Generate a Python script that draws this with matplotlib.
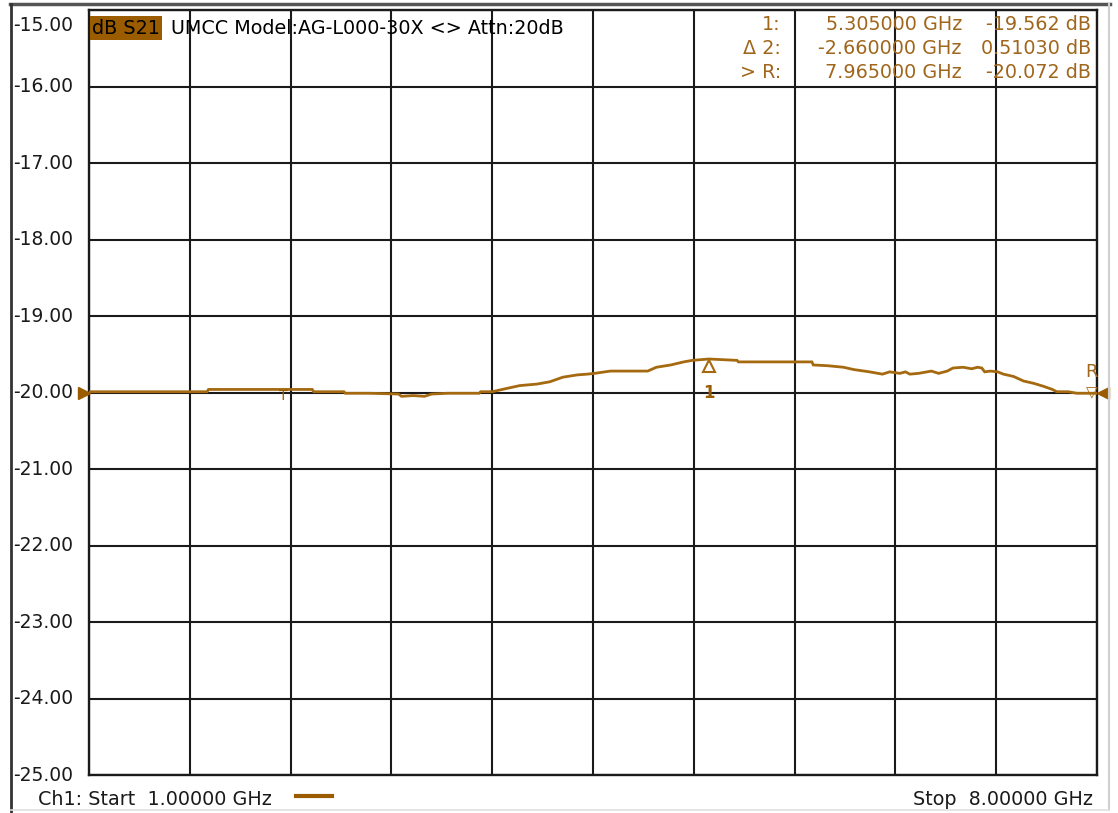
import matplotlib
matplotlib.use("Agg")
import matplotlib.pyplot as plt
from matplotlib.transforms import blended_transform_factory, offset_copy
from matplotlib.lines import Line2D

# ---- data ----
freq_ghz = [1.00, 1.82, 1.83, 2.55, 2.56, 2.77, 2.78, 2.95, 3.15, 3.17, 3.25, 3.33,
            3.38, 3.49, 3.71, 3.72, 3.80, 3.87, 3.99, 4.11, 4.20, 4.29, 4.39, 4.46,
            4.51, 4.62, 4.88, 4.94, 5.04, 5.13, 5.19, 5.305, 5.50, 5.51, 5.87, 6.02,
            6.03, 6.13, 6.24, 6.31, 6.42, 6.51, 6.56, 6.63, 6.67, 6.70, 6.76, 6.85,
            6.90, 6.96, 7.00, 7.07, 7.13, 7.17, 7.20, 7.22, 7.26, 7.31, 7.35, 7.42,
            7.49, 7.56, 7.63, 7.69, 7.72, 7.80, 7.86, 8.00]
s21_db = [-19.99, -19.99, -19.96, -19.96, -19.99, -19.99, -20.01, -20.01, -20.02, -20.05,
          -20.04, -20.05, -20.02, -20.01, -20.01, -19.99, -19.99, -19.96, -19.91, -19.89,
          -19.86, -19.80, -19.77, -19.76, -19.75, -19.72, -19.72, -19.67, -19.64, -19.60,
          -19.58, -19.562, -19.58, -19.60, -19.60, -19.60, -19.64, -19.65, -19.67, -19.70,
          -19.73, -19.76, -19.73, -19.75, -19.73, -19.76, -19.75, -19.72, -19.75, -19.72,
          -19.68, -19.67, -19.69, -19.67, -19.68, -19.73, -19.72, -19.73, -19.76, -19.79,
          -19.85, -19.88, -19.92, -19.96, -19.99, -19.99, -20.01, -20.01]
y_ticks = [-15, -16, -17, -18, -19, -20, -21, -22, -23, -24, -25]
y_tick_labels = ["-15.00", "-16.00", "-17.00", "-18.00", "-19.00", "-20.00",
                 "-21.00", "-22.00", "-23.00", "-24.00", "-25.00"]
x_start, x_stop = 1.0, 8.0
ref_level = -20.0
marker_freq = 5.305
marker_db = -19.562
markerR_freq = 7.965
readout_names = ["1:", "\u0394 2:", "> R:"]
readout_freqs = ["5.305000 GHz", "-2.660000 GHz", "7.965000 GHz"]
readout_vals = ["-19.562 dB", "0.51030 dB", "-20.072 dB"]

# ---- figure ----
W, H = 1118, 813
fig = plt.figure(figsize=(W / 100, H / 100), dpi=100)
fig.patch.set_facecolor("white")

def fx(px):
    return px / W

def fy(py):
    return 1 - py / H

FS = 13.8
left, right, top, bottom = 89, 1097, 10, 775
ax = fig.add_axes([fx(left), fy(bottom), fx(right) - fx(left), fy(top) - fy(bottom)])
ax.set_xlim(x_start, x_stop)
ax.set_ylim(-25, -15)
ax.set_xticks([x_start + i * (x_stop - x_start) / 10 for i in range(11)])
ax.set_yticks(y_ticks)
ax.grid(True, color="#1a1a1a", linewidth=1.5)
ax.tick_params(length=0, labelbottom=False, labelleft=False)
for s in ax.spines.values():
    s.set_color("#1a1a1a")
    s.set_linewidth(1.7)
ax.set_axisbelow(True)

trace_col = "#A5690F"
text_col = "#A0661C"
ax.plot(freq_ghz, s21_db, color=trace_col, linewidth=2.0, solid_joinstyle="miter", zorder=3)

# reference position arrows
ax.plot([x_start], [ref_level], marker=">", color="#9B5C00", markersize=9, clip_on=False, zorder=4,
        transform=offset_copy(ax.transData, fig=fig, x=-5, y=0, units="dots"))
ax.plot([x_stop], [ref_level], marker="<", color="#9B5C00", markersize=9, clip_on=False, zorder=4,
        transform=offset_copy(ax.transData, fig=fig, x=6, y=0, units="dots"))

# markers
ax.plot([marker_freq], [marker_db], marker="^", markerfacecolor="none", markeredgecolor=trace_col,
        markersize=9, markeredgewidth=1.5, zorder=4,
        transform=offset_copy(ax.transData, fig=fig, x=0, y=-7, units="dots"))
ax.text(marker_freq, ref_level, "1", color="#9B5C00", fontsize=12, ha="center", va="center",
        fontweight="bold", zorder=5)
ax.text(markerR_freq, ref_level, "\u25bd", color=trace_col, fontsize=11, ha="center", va="center",
        zorder=5)
ax.text(markerR_freq, ref_level + 0.27, "R", color=text_col, fontsize=13, ha="center", va="center",
        zorder=5)
ax.text(2.35, ref_level - 0.05, "T", color="#9B5C00", fontsize=10, ha="center", va="center", zorder=5)

# header
fig.text(fx(92), fy(28), "dB S21", fontsize=FS, color="black", ha="left", va="center",
         bbox=dict(boxstyle="square,pad=0.12", facecolor="#9B5C00", edgecolor="none"))
fig.text(fx(171), fy(28), "UMCC Model:AG-L000-30X <> Attn:20dB", fontsize=FS, color="black",
         ha="left", va="center")

# readout
rows_y = [25, 48, 72]
for name, fr, val, yy in zip(readout_names, readout_freqs, readout_vals, rows_y):
    fig.text(fx(781), fy(yy), name, fontsize=FS, color=text_col, ha="right", va="center")
    fig.text(fx(962), fy(yy), fr, fontsize=FS, color=text_col, ha="right", va="center")
    fig.text(fx(1091), fy(yy), val, fontsize=FS, color=text_col, ha="right", va="center")

# y labels
btr = blended_transform_factory(fig.transFigure, ax.transData)
for v, lab in zip(y_ticks, y_tick_labels):
    tr = btr if v != -15 else offset_copy(btr, fig=fig, x=0, y=-15, units="dots")
    fig.text(fx(13), v, lab, fontsize=13.5, color="#1a1a1a", ha="left", va="center", transform=tr)

# footer
fig.text(fx(38), fy(799), "Ch1: Start  1.00000 GHz", fontsize=FS, color="#1a1a1a",
         ha="left", va="center")
fig.text(fx(1093), fy(799), "Stop  8.00000 GHz", fontsize=FS, color="#1a1a1a",
         ha="right", va="center")
fig.add_artist(Line2D([fx(296), fx(332)], [fy(796), fy(796)], color="#9B5C00", linewidth=3))

# window frame
fig.add_artist(Line2D([fx(10), fx(1110)], [fy(4), fy(4)], color="#555555", linewidth=2.5))
fig.add_artist(Line2D([fx(11), fx(11)], [fy(4), fy(813)], color="#333333", linewidth=2.0))
fig.add_artist(Line2D([fx(1109), fx(1109)], [fy(4), fy(810)], color="#d0d0d0", linewidth=1.5))
fig.add_artist(Line2D([fx(11), fx(1109)], [fy(810), fy(810)], color="#e0e0e0", linewidth=1.2))

fig.savefig("out.png", dpi=100)
